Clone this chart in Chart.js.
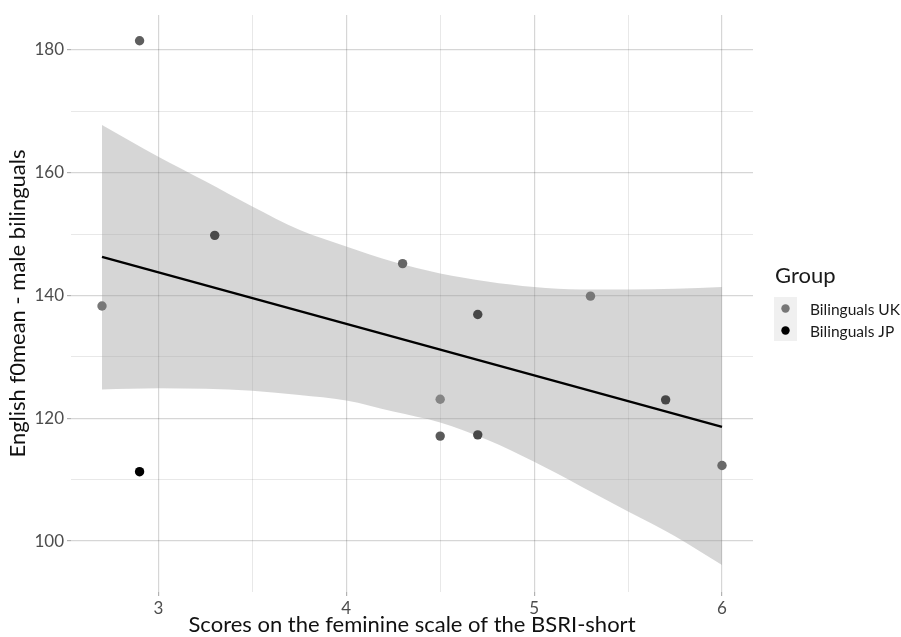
<!DOCTYPE html>
<html>
<head>
<meta charset="utf-8">
<script src="https://cdn.jsdelivr.net/npm/chart.js@4.4.1/dist/chart.umd.min.js"></script>
<style>
  html, body { margin: 0; padding: 0; background: #fff; }
  #wrap { width: 901px; height: 637px; }
</style>
</head>
<body>
<div id="wrap"><canvas id="f0Chart" width="901" height="637"></canvas></div>
<script>
// feminine scale scores and English f0 mean per speaker
var groups = ['Bilinguals UK', 'Bilinguals JP'];
var ukScores = [2.9, 2.7, 3.3, 4.3, 4.7, 5.3, 4.5, 4.5, 4.7, 5.7, 6.0];
var ukF0 = [181.5, 138.3, 149.8, 145.2, 136.9, 139.9, 123.1, 117.1, 117.3, 123.0, 112.3];
var jpScores = [2.9];
var jpF0 = [111.3];

// linear fit and its 95% band
var fitX = [2.7, 6.0];
var fitY = [146.3, 118.6];
var bandX = [2.7, 3.0, 3.25, 3.5, 3.75, 4.0, 4.25, 4.5, 4.75, 5.0, 5.25, 5.5, 5.75, 6.0];
var bandUpper = [167.8, 162.6, 158.6, 154.5, 150.7, 148.0, 145.5, 143.6, 142.3, 141.4, 141.0, 141.0, 141.1, 141.4];
var bandLower = [124.7, 124.9, 124.8, 124.5, 123.8, 122.9, 121.1, 119.3, 116.5, 112.9, 108.9, 104.8, 100.8, 96.1];

var xTicks = [3, 3.5, 4, 4.5, 5, 5.5, 6];
var yTicks = [100, 110, 120, 130, 140, 150, 160, 170, 180];

// shades of the UK markers (some sit on top of each other)
var ukShades = ['#5e5e5e', '#777777', '#4a4a4a', '#666666', '#474747', '#777777',
                '#858585', '#5a5a5a', '#474747', '#474747', '#6a6a6a'];
var groupColors = ['#777777', '#000000'];

function pairs(xs, ys) {
    return xs.map(function(x, i) { return { x: x, y: ys[i] }; });
}

var FONT = 'Lato, "Open Sans", sans-serif';

function isMajorX(v) { return Math.abs(v - Math.round(v)) < 1e-6; }
function isMajorY(v) { return v % 20 === 0; }

function gridColor(major) { return major ? 'rgba(0,0,0,0.16)' : 'rgba(0,0,0,0.09)'; }

// legend on the right: title, grey key box, two markers
var groupLegend = {
    id: 'groupLegend',
    afterDraw: function(chart) {
        var c = chart.ctx;
        c.save();
        c.fillStyle = '#1a1a1a';
        c.font = '22px ' + FONT;
        c.textBaseline = 'alphabetic';
        c.textAlign = 'left';
        c.fillText('Group', 775, 283);
        c.fillStyle = '#f0f0f0';
        c.fillRect(774, 297, 23, 44);
        c.font = '15.5px ' + FONT;
        c.textBaseline = 'middle';
        groups.forEach(function(g, i) {
            var y = 308.5 + i * 22;
            c.beginPath();
            c.arc(785.5, y, 4.2, 0, Math.PI * 2);
            c.fillStyle = groupColors[i];
            c.fill();
            c.fillStyle = '#1a1a1a';
            c.fillText(g, 810, y + 1);
        });
        c.restore();
    }
};

var ctx = document.getElementById('f0Chart').getContext('2d');
var f0Chart = new Chart(ctx, {
    type: 'scatter',
    data: {
        datasets: [
            {
                label: groups[0],
                data: pairs(ukScores, ukF0),
                backgroundColor: ukShades,
                borderWidth: 0,
                pointRadius: 4.7,
                order: 0
            },
            {
                label: groups[1],
                data: pairs(jpScores, jpF0),
                backgroundColor: groupColors[1],
                borderWidth: 0,
                pointRadius: 4.7,
                order: 0
            },
            {
                label: 'fit',
                type: 'line',
                data: pairs(fitX, fitY),
                borderColor: '#000',
                borderWidth: 2.3,
                pointRadius: 0,
                fill: false,
                order: 1
            },
            {
                label: 'upper',
                type: 'line',
                data: pairs(bandX, bandUpper),
                borderWidth: 0,
                borderColor: 'rgba(0,0,0,0)',
                pointRadius: 0,
                backgroundColor: 'rgba(153,153,153,0.4)',
                fill: '+1',
                cubicInterpolationMode: 'monotone',
                order: 2
            },
            {
                label: 'lower',
                type: 'line',
                data: pairs(bandX, bandLower),
                borderWidth: 0,
                borderColor: 'rgba(0,0,0,0)',
                pointRadius: 0,
                fill: false,
                cubicInterpolationMode: 'monotone',
                order: 3
            }
        ]
    },
    options: {
        responsive: false,
        animation: false,
        layout: {
            padding: { left: 0, right: 148, top: 15, bottom: 0 }
        },
        scales: {
            x: {
                type: 'linear',
                min: 2.535,
                max: 6.165,
                afterBuildTicks: function(scale) {
                    scale.ticks = xTicks.map(function(v) { return { value: v }; });
                },
                afterFit: function(scale) { scale.height = 45; },
                border: { display: false },
                grid: {
                    tickLength: 4,
                    color: function(c) { return gridColor(isMajorX(c.tick.value)); },
                    tickColor: function(c) { return isMajorX(c.tick.value) ? 'rgba(0,0,0,0.3)' : 'rgba(0,0,0,0)'; },
                    lineWidth: function(c) { return isMajorX(c.tick.value) ? 1.2 : 1; }
                },
                ticks: {
                    padding: 2,
                    maxRotation: 0,
                    autoSkip: false,
                    color: '#4d4d4d',
                    font: { family: FONT, size: 17 },
                    callback: function(v) { return isMajorX(v) ? String(v) : ''; }
                },
                title: {
                    display: true,
                    text: 'Scores on the feminine scale of the BSRI-short',
                    color: '#111',
                    font: { family: FONT, size: 22 },
                    padding: { top: 0, bottom: -1 }
                }
            },
            y: {
                type: 'linear',
                min: 91.7,
                max: 185.7,
                afterBuildTicks: function(scale) {
                    scale.ticks = yTicks.map(function(v) { return { value: v }; });
                },
                afterFit: function(scale) { scale.width = 71; },
                border: { display: false },
                grid: {
                    tickLength: 4,
                    color: function(c) { return gridColor(isMajorY(c.tick.value)); },
                    tickColor: function(c) { return isMajorY(c.tick.value) ? 'rgba(0,0,0,0.3)' : 'rgba(0,0,0,0)'; },
                    lineWidth: function(c) { return isMajorY(c.tick.value) ? 1.2 : 1; }
                },
                ticks: {
                    padding: 3,
                    autoSkip: false,
                    color: '#4d4d4d',
                    font: { family: FONT, size: 17 },
                    callback: function(v) { return isMajorY(v) ? String(v) : ''; }
                },
                title: {
                    display: true,
                    text: 'English f0mean - male bilinguals',
                    color: '#111',
                    font: { family: FONT, size: 22 },
                    padding: { top: 5, bottom: 0 }
                }
            }
        },
        plugins: {
            legend: { display: false },
            tooltip: { enabled: false }
        }
    },
    plugins: [groupLegend]
});
</script>
</body>
</html>
